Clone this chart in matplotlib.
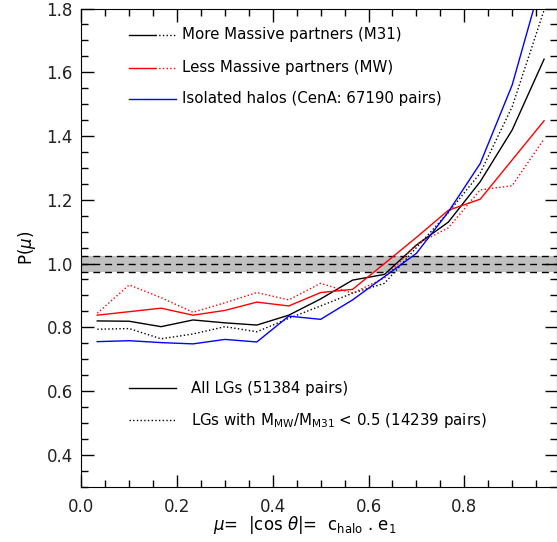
import numpy as np
import matplotlib
matplotlib.use('Agg')
import matplotlib.pyplot as plt
from matplotlib.ticker import MultipleLocator

# bin centres of mu
mu = (2 * np.arange(15) + 1) / 30.0

# all LGs
m31_all = [0.820, 0.819, 0.802, 0.823, 0.814, 0.807, 0.838, 0.889, 0.948, 0.966,
           1.058, 1.130, 1.257, 1.419, 1.641]
mw_all = [0.838, 0.849, 0.860, 0.838, 0.853, 0.879, 0.867, 0.909, 0.919, 1.000,
          1.082, 1.167, 1.202, 1.325, 1.448]
# LGs with M_MW/M_M31 < 0.5
m31_low = [0.794, 0.796, 0.764, 0.779, 0.802, 0.786, 0.828, 0.867, 0.907, 0.938,
           1.050, 1.160, 1.284, 1.492, 1.795]
mw_low = [0.844, 0.933, 0.893, 0.847, 0.877, 0.909, 0.886, 0.938, 0.907, 0.955,
          1.060, 1.112, 1.231, 1.244, 1.391]
# isolated halos
cena = [0.755, 0.758, 0.752, 0.748, 0.762, 0.754, 0.835, 0.825, 0.886, 0.959,
        1.032, 1.162, 1.314, 1.560, 1.915]

band = 0.025

fig = plt.figure(figsize=(5.57, 5.42), dpi=100)
ax = fig.add_axes([81.3/557, 55.3/542, 475.2/557, 478.2/542])

ax.axhspan(1 - band, 1 + band, color='#c0c0c0', lw=0, zorder=0)
for yy in [1 - band, 1.0, 1 + band]:
    ax.axhline(yy, color='k', lw=1.0, ls=(0, (5, 3.5)), zorder=1)

ax.plot(mu, m31_all, color='k', lw=1.0)
ax.plot(mu, m31_low, color='k', lw=1.0, ls=':')
ax.plot(mu, mw_all, color='#ff0000', lw=1.0)
ax.plot(mu, mw_low, color='#ff0000', lw=1.0, ls=':')
ax.plot(mu, cena, color='#0000ff', lw=1.0)

ax.set_xlim(0, 0.9926)
ax.set_ylim(0.3, 1.8)
ax.xaxis.set_major_locator(MultipleLocator(0.2))
ax.xaxis.set_minor_locator(MultipleLocator(0.05))
ax.set_yticks([0.4, 0.6, 0.8, 1.0, 1.2, 1.4, 1.6, 1.8])
ax.yaxis.set_minor_locator(MultipleLocator(0.05))
ax.tick_params(which='both', direction='in', top=True, right=True, width=1.0,
               labelsize=12, colors='k')
ax.tick_params(which='major', length=9)
ax.tick_params(which='minor', length=5)
ax.tick_params(axis='x', pad=8)
ax.tick_params(axis='y', pad=6)
for lab in ax.get_xticklabels() + ax.get_yticklabels():
    lab.set_color('#222222')

ax.set_xlabel(r'$\mu$=  |cos $\theta$|=  c$_{\rm halo}$ . e$_1$', fontsize=12,
              va='center')
ax.xaxis.set_label_coords(0.47, -0.081)
ax.set_ylabel(r'P($\mu$)', fontsize=12, labelpad=6)

# legend entries drawn by hand (two-part handles)
def handle(y, parts, color):
    x0 = 0.100
    x1 = 0.199
    xm = 0.155
    tr = ax.transAxes
    if parts == 'both':
        ax.plot([x0, xm], [y, y], color=color, lw=1.0, transform=tr, clip_on=False)
        ax.plot([xm, x1], [y, y], color=color, lw=1.0, ls=':', transform=tr, clip_on=False)
    elif parts == 'solid':
        ax.plot([x0, x1], [y, y], color=color, lw=1.0, transform=tr, clip_on=False)
    else:
        ax.plot([x0, x1], [y, y], color=color, lw=1.0, ls=':', transform=tr, clip_on=False)

top_labels = ['More Massive partners (M31)', 'Less Massive partners (MW)',
              'Isolated halos (CenA: 67190 pairs)']
top_colors = ['k', '#ff0000', '#0000ff']
top_parts = ['both', 'both', 'solid']
top_y = [35, 67.7, 99]
for lab, c, p, py in zip(top_labels, top_colors, top_parts, top_y):
    y = (486.7 - py) / 478.2
    handle(y, p, c)
    ax.text(0.212, y, lab, transform=ax.transAxes, fontsize=10.8, va='center', ha='left')

bot_labels = ['All LGs (51384 pairs)',
              r'LGs with M$_{\rm MW}$/M$_{\rm M31}$ < 0.5 (14239 pairs)']
bot_parts = ['solid', 'dotted']
bot_y = [388, 420]
for lab, p, py in zip(bot_labels, bot_parts, bot_y):
    y = (486.7 - py) / 478.2
    handle(y, p, 'k')
    ax.text(0.230, y, lab, transform=ax.transAxes, fontsize=10.8, va='center', ha='left')

fig.savefig('out.png', dpi=100)
